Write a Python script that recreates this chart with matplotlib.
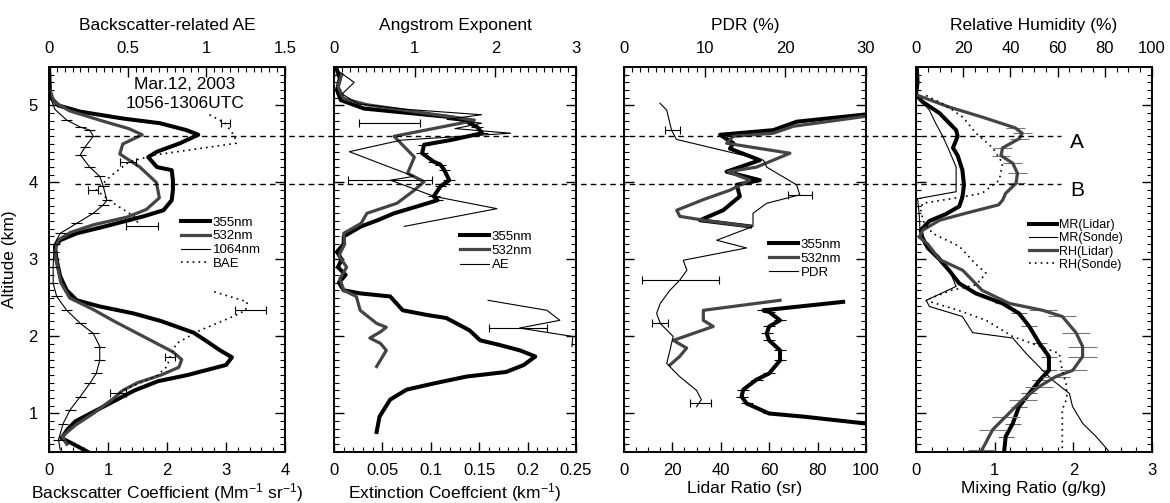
import matplotlib
matplotlib.use("Agg")
import matplotlib.pyplot as plt
import matplotlib.transforms as mtransforms
from matplotlib.ticker import MultipleLocator, FuncFormatter

plt.rcParams.update({
    "font.family": ["Liberation Sans", "DejaVu Sans"],
    "font.size": 12,
    "mathtext.default": "regular",
    "axes.linewidth": 1.2,
})

# ---- panel 1: backscatter coefficient (Mm-1 sr-1) and backscatter-related AE
alt_b355 = [0.5, 0.6, 0.68, 0.8, 0.9, 1.1, 1.3, 1.42, 1.5, 1.63, 1.73, 1.82, 1.95, 2.05, 2.2,
            2.3, 2.39, 2.47, 2.6, 2.78, 2.99, 3.17, 3.25, 3.34, 3.43, 3.56, 3.64, 3.77, 3.9, 4.03,
            4.16, 4.2, 4.33, 4.4, 4.51, 4.62, 4.68, 4.77, 4.83, 4.92, 5.0, 5.11, 5.3, 5.5]
b355 = [0.66, 0.42, 0.21, 0.32, 0.45, 0.95, 1.45, 1.85, 2.35, 3.0, 3.1, 2.9, 2.65, 2.45, 1.9,
        1.43, 0.86, 0.47, 0.3, 0.19, 0.13, 0.1, 0.19, 0.47, 0.95, 1.6, 1.94, 2.08, 2.1, 2.1,
        2.08, 1.83, 1.68, 1.83, 2.22, 2.53, 2.33, 1.88, 1.26, 0.53, 0.16, 0.02, 0.01, 0.0]
alt_b532 = [0.6, 0.7, 0.85, 1.0, 1.2, 1.3, 1.4, 1.5, 1.6, 1.7, 1.8, 1.9, 2.0, 2.1, 2.2, 2.35,
            2.5, 2.7, 3.0, 3.1, 3.25, 3.35, 3.45, 3.55, 3.65, 3.8, 4.0, 4.2, 4.37, 4.5, 4.62,
            4.7, 4.8, 4.93, 5.05, 5.2]
b532 = [0.3, 0.22, 0.45, 0.75, 1.1, 1.25, 1.5, 1.9, 2.2, 2.25, 2.1, 1.85, 1.6, 1.35, 1.1, 0.75,
        0.35, 0.2, 0.12, 0.1, 0.15, 0.36, 0.75, 1.32, 1.65, 1.87, 1.82, 1.54, 1.2, 1.25, 1.58,
        1.35, 0.9, 0.35, 0.08, 0.02]
alt_b1064 = [0.53, 0.66, 0.87, 1.05, 1.22, 1.39, 1.52, 1.69, 1.87, 2.04, 2.17, 2.34, 2.52, 2.69,
             2.9, 3.1, 3.2, 3.34, 3.47, 3.6, 3.71, 3.77, 3.95, 4.08, 4.2, 4.36, 4.46, 4.6, 4.68,
             4.72, 4.81, 4.95, 5.11, 5.3, 5.5]
b1064 = [0.19, 0.16, 0.24, 0.36, 0.53, 0.69, 0.8, 0.86, 0.86, 0.75, 0.53, 0.3, 0.13, 0.07,
         0.07, 0.08, 0.09, 0.19, 0.47, 0.75, 0.92, 0.98, 0.92, 0.86, 0.69, 0.53, 0.61, 0.75,
         0.69, 0.53, 0.3, 0.1, 0.02, 0.01, 0.0]
alt_bae_hi = [4.88, 4.77, 4.6, 4.51, 4.36, 4.27, 4.08, 3.9, 3.73, 3.56, 3.43]
bae_hi = [1.02, 1.12, 1.18, 1.19, 0.68, 0.51, 0.39, 0.3, 0.41, 0.54, 0.58]
alt_bae_lo = [2.58, 2.45, 2.34, 2.26, 2.08, 1.91, 1.74, 1.61, 1.48, 1.39, 1.3, 1.26]
bae_lo = [1.05, 1.26, 1.25, 1.17, 0.96, 0.81, 0.77, 0.75, 0.68, 0.57, 0.47, 0.44]
bae_err_alt = [4.77, 4.27, 3.9, 3.43, 2.34, 1.74, 1.26]
bae_err_mid = [1.12, 0.5, 0.28, 0.59, 1.28, 0.77, 0.44]
bae_err_half = [0.03, 0.05, 0.03, 0.1, 0.1, 0.03, 0.05]

# ---- panel 2: extinction coefficient (km-1) and Angstrom exponent
alt_e355 = [0.76, 0.96, 1.18, 1.31, 1.39, 1.48, 1.54, 1.63, 1.74, 1.82, 1.89, 1.95, 2.08, 2.24,
            2.28, 2.34, 2.52, 2.56, 2.6, 2.7, 2.8, 2.9, 3.0, 3.1, 3.2, 3.3, 3.43, 3.51, 3.6,
            3.69, 3.77, 3.82, 3.95, 4.03, 4.16, 4.23, 4.27, 4.38, 4.49, 4.55, 4.64, 4.72, 4.81,
            4.85, 4.96, 5.07, 5.2, 5.35, 5.5]
e355 = [0.044, 0.047, 0.058, 0.075, 0.103, 0.137, 0.178, 0.196, 0.208, 0.192, 0.171, 0.151,
        0.14, 0.116, 0.096, 0.071, 0.058, 0.027, 0.01, 0.005, 0.012, 0.004, 0.008, 0.003, 0.01,
        0.01, 0.028, 0.045, 0.062, 0.086, 0.107, 0.103, 0.11, 0.119, 0.114, 0.11, 0.103, 0.091,
        0.093, 0.12, 0.153, 0.148, 0.134, 0.12, 0.031, 0.007, 0.003, 0.006, 0.002]
alt_e532 = [1.61, 1.82, 1.91, 1.98, 2.06, 2.12, 2.17, 2.34, 2.52, 2.6, 2.75, 2.9, 3.05, 3.2,
            3.34, 3.47, 3.6, 3.73, 3.9, 4.01, 4.12, 4.33, 4.51, 4.6, 4.77, 4.81, 5.01, 5.09,
            5.25, 5.4]
e532 = [0.044, 0.054, 0.048, 0.037, 0.048, 0.054, 0.044, 0.027, 0.023, 0.01, 0.006, 0.013,
        0.005, 0.011, 0.01, 0.028, 0.034, 0.065, 0.083, 0.093, 0.076, 0.083, 0.069, 0.062,
        0.131, 0.145, 0.034, 0.01, 0.004, 0.008]
alt_ae_hi = [5.45, 5.3, 5.15, 5.02, 4.95, 4.88, 4.82, 4.77, 4.7, 4.64, 4.55, 4.4, 4.08, 4.03,
             3.82, 3.66, 3.43]
ae_hi = [0.05, 0.25, 0.1, 0.3, 0.9, 1.83, 1.4, 1.83, 1.5, 2.19, 0.83, 0.19, 0.99, 0.7, 1.24,
         2.02, 0.87]
alt_ae_lo = [2.47, 2.34, 2.21, 2.11, 2.0, 1.87]
ae_lo = [1.91, 2.64, 2.8, 2.3, 2.96, 2.95]
ae_err_alt = [4.77, 4.03, 2.11]
ae_err_mid = [0.69, 0.69, 2.28]
ae_err_half = [0.38, 0.52, 0.36]

# ---- panel 3: lidar ratio (sr) and particle depolarization ratio (%)
alt_lr355_lo = [0.87, 0.96, 1.0, 1.13, 1.22, 1.31, 1.44, 1.52, 1.69, 1.82, 1.95, 2.04, 2.13,
                2.21, 2.32, 2.34, 2.45]
lr355_lo = [100, 74, 60, 50.7, 48.6, 49.3, 54.8, 60, 64.5, 64.5, 60, 59, 60, 64.5, 60, 57.6, 90.6]
alt_lr355_hi = [3.43, 3.51, 3.64, 3.82, 3.97, 4.03, 4.14, 4.29, 4.44, 4.51, 4.62, 4.68, 4.79, 4.88]
lr355_hi = [52.1, 31.4, 41, 47.9, 46.6, 56.2, 42.4, 56.2, 43.8, 45.2, 39.7, 61.7, 71.4, 98.9]
alt_lr532_lo = [1.63, 1.74, 1.85, 1.95, 2.13, 2.21, 2.34, 2.47]
lr532_lo = [19, 23, 25.9, 20.4, 36.9, 32.8, 32.8, 64.5]
alt_lr532_hi = [3.43, 3.5, 3.56, 3.64, 3.78, 3.9, 4.03, 4.14, 4.2, 4.38, 4.51, 4.6, 4.64, 4.73, 4.86]
lr532_hi = [52, 35, 23.1, 21.8, 33, 43.8, 52, 43.1, 54.8, 68.6, 42.4, 45.2, 61.7, 70, 100]
alt_pdr = [1.09, 1.18, 1.3, 1.48, 1.65, 1.82, 2.0, 2.17, 2.3, 2.43, 2.6, 2.73, 2.86, 2.99,
           3.15, 3.25, 3.43, 3.6, 3.73, 3.84, 3.97, 4.2, 4.29, 4.56, 4.68, 4.94, 5.03]
pdr = [9.0, 9.6, 9.0, 6.9, 5.3, 5.7, 6.1, 4.5, 4.05, 4.5, 5.7, 6.9, 7.8, 7.35, 15.2, 11.5, 16,
       16, 17.7, 21.8, 21.4, 17.7, 17.3, 6.5, 5.9, 5.3, 4.46]
pdr_err_alt = [4.68, 3.84, 2.73, 2.17, 1.14]
pdr_err_mid = [6.0, 21.8, 7.0, 4.5, 9.5]
pdr_err_half = [0.9, 1.5, 4.8, 1.0, 1.35]

# ---- panel 4: mixing ratio (g/kg) and relative humidity (%)
alt_mrl = [0.5, 0.7, 0.87, 1.09, 1.26, 1.43, 1.56, 1.74, 1.91, 2.13, 2.3, 2.43, 2.56, 2.69,
           2.86, 3.0, 3.15, 3.29, 3.38, 3.5, 3.59, 3.69, 3.81, 3.97, 4.16, 4.35, 4.45, 4.6,
           4.68, 4.9, 5.05, 5.14, 5.3, 5.5]
mrl = [1.12, 1.14, 1.23, 1.31, 1.44, 1.57, 1.69, 1.69, 1.57, 1.44, 1.31, 1.1, 0.76, 0.55,
       0.42, 0.3, 0.15, 0.08, 0.06, 0.17, 0.38, 0.55, 0.59, 0.61, 0.59, 0.53, 0.47, 0.53,
       0.51, 0.3, 0.08, 0.0, 0.02, 0.01]
alt_mrs = [0.5, 0.7, 0.87, 1.09, 1.26, 1.43, 1.56, 1.78, 1.98, 2.05, 2.26, 2.39, 2.47, 2.65,
           2.85, 3.05, 3.2, 3.4, 3.6, 3.79, 3.88, 4.2, 4.42, 4.6, 4.77, 4.94, 5.14]
mrs = [2.46, 2.29, 2.12, 1.99, 1.95, 1.74, 1.61, 1.4, 1.23, 0.72, 0.59, 0.17, 0.13, 0.51,
       0.43, 0.29, 0.1, 0.05, 0.04, 0.02, 0.51, 0.51, 0.42, 0.34, 0.25, 0.17, 0.0]
alt_rhl = [0.53, 0.79, 0.96, 1.18, 1.35, 1.48, 1.56, 1.74, 1.87, 2.05, 2.26, 2.34, 2.43, 2.6,
           2.86, 3.0, 3.2, 3.29, 3.38, 3.51, 3.6, 3.71, 3.77, 3.86, 3.99, 4.12, 4.25, 4.35,
           4.45, 4.57, 4.64, 4.71, 4.85, 4.98, 5.14]
rhl = [28, 32.5, 38, 45.2, 52.2, 59.3, 66.4, 70.6, 70.6, 67.8, 62, 53.7, 39.5, 28, 19.8, 10,
       5, 1.4, 2.8, 10, 21, 35, 36.7, 38, 42.4, 43, 41, 36, 36.7, 43.8, 45, 42, 28, 14, 0]
alt_rhs = [0.55, 1.05, 1.2, 1.39, 1.55, 1.78, 2.0, 2.21, 2.34, 2.47, 2.6, 2.67, 2.82, 2.95,
           3.17, 3.34, 3.5, 3.65, 3.73, 3.77, 3.82, 3.86, 4.03, 4.25, 4.45, 4.64, 4.85, 5.0, 5.15]
rhs = [62, 62, 64, 63.6, 62, 60.7, 41, 29.7, 18, 4, 15, 25.4, 29.7, 25, 18.4, 7, 3, 2, 2.8,
       11, 21, 28, 35.3, 36.7, 32.5, 25.4, 19.8, 12.7, 3]

layer_alt = [4.6, 3.98]
layer_name = ["A", "B"]

THICK = dict(color="black", lw=2.9)
GRAY = dict(color="#444444", lw=2.3)
THIN = dict(color="black", lw=0.8)
DOTS = dict(color="black", lw=1.2, ls=(0, (1, 2.5)))
ERR = dict(fmt="none", ecolor="black", elinewidth=0.8, capsize=3, capthick=0.8)
LEG = dict(loc="upper left", frameon=False, handlelength=2.2, handletextpad=0.2,
           borderpad=0, borderaxespad=0)

fig = plt.figure(figsize=(11.7, 5.03), dpi=100)
fmt = FuncFormatter(lambda v, p: f"{v:g}")


def make_panel(left, width, bot, top, xlabel, tlabel, ylab=False):
    ax = fig.add_axes([left, 0.1014, width, 0.7654])
    ax.set_ylim(0.5, 5.5)
    ax.set_xlim(0, bot[0])
    ax.xaxis.set_major_locator(MultipleLocator(bot[1]))
    ax.xaxis.set_minor_locator(MultipleLocator(bot[2]))
    ax.xaxis.set_major_formatter(fmt)
    ax.yaxis.set_major_locator(MultipleLocator(1))
    ax.yaxis.set_minor_locator(MultipleLocator(0.1))
    ax.tick_params(which="both", direction="in", top=False, right=True, labelleft=ylab)
    ax.tick_params(which="major", length=7, width=1, pad=8)
    ax.tick_params(which="minor", length=3.5, width=0.8)
    ax.set_xlabel(xlabel, labelpad=2, fontsize=12.5)
    axt = ax.twiny()
    axt.set_xlim(0, top[0])
    axt.xaxis.set_major_locator(MultipleLocator(top[1]))
    axt.xaxis.set_minor_locator(MultipleLocator(top[2]))
    axt.xaxis.set_major_formatter(fmt)
    axt.tick_params(axis="x", which="both", direction="in")
    axt.tick_params(axis="x", which="major", length=7, width=1, pad=8)
    axt.tick_params(axis="x", which="minor", length=3.5, width=0.8)
    axt.set_xlabel(tlabel, labelpad=8, fontsize=12.5)
    return ax, axt


ax1, ax1t = make_panel(0.0419, 0.2017, (4, 1, 0.2), (1.5, 0.5, 0.05),
                       "Backscatter Coefficient (Mm$^{-1}$ sr$^{-1}$)", "Backscatter-related AE", ylab=True)
ax1.set_ylabel("Altitude (km)", labelpad=8, fontsize=12.5)
h1 = ax1.plot(b355, alt_b355, **THICK, label="355nm")
h2 = ax1.plot(b532, alt_b532, **GRAY, label="532nm")
h3 = ax1.plot(b1064, alt_b1064, **THIN, label="1064nm")
ax1.errorbar(b1064[1:31], alt_b1064[1:31], xerr=0.09, fmt="none", ecolor="black", elinewidth=0.8)
h4 = ax1t.plot(bae_hi, alt_bae_hi, **DOTS, label="BAE")
ax1t.plot(bae_lo, alt_bae_lo, **DOTS)
ax1t.errorbar(bae_err_mid, bae_err_alt, xerr=bae_err_half, **ERR)
ax1t.legend(handles=h1 + h2 + h3 + h4, bbox_to_anchor=(0.56, 0.612), fontsize=9.5,
            labelspacing=0.12, **LEG)
ax1.text(2.3, 5.27, "Mar.12, 2003", ha="center", va="center", fontsize=12.5)
ax1.text(2.3, 5.02, "1056-1306UTC", ha="center", va="center", fontsize=12.5)

ax2, ax2t = make_panel(0.2855, 0.2068, (0.25, 0.05, 0.01), (3, 1, 0.1),
                       "Extinction Coeffcient (km$^{-1}$)", "Angstrom Exponent")
g1 = ax2.plot(e355, alt_e355, **THICK, label="355nm")
g2 = ax2.plot(e532, alt_e532, **GRAY, label="532nm")
ax2.errorbar(e355[30:42], alt_e355[30:42], xerr=0.006, fmt="none", ecolor="black", elinewidth=0.8)
g3 = ax2t.plot(ae_hi, alt_ae_hi, **THIN, label="AE")
ax2t.plot(ae_lo, alt_ae_lo, **THIN)
ax2t.errorbar(ae_err_mid, ae_err_alt, xerr=ae_err_half, **ERR)
ax2t.legend(handles=g1 + g2 + g3, bbox_to_anchor=(0.52, 0.575), fontsize=9.5,
            labelspacing=0.15, **LEG)

ax3, ax3t = make_panel(0.5333, 0.2068, (100, 20, 5), (30, 10, 1),
                       "Lidar Ratio (sr)", "PDR (%)")
k1 = ax3.plot(lr355_lo, alt_lr355_lo, **THICK, label="355nm")
ax3.plot(lr355_hi, alt_lr355_hi, **THICK)
k2 = ax3.plot(lr532_lo, alt_lr532_lo, **GRAY, label="532nm")
ax3.plot(lr532_hi, alt_lr532_hi, **GRAY)
ax3.errorbar(lr355_lo[1:16], alt_lr355_lo[1:16], xerr=2.5, fmt="none", ecolor="black", elinewidth=0.8)
k3 = ax3t.plot(pdr, alt_pdr, **THIN, label="PDR")
ax3t.errorbar(pdr_err_mid, pdr_err_alt, xerr=pdr_err_half, **ERR)
ax3t.legend(handles=k1 + k2 + k3, bbox_to_anchor=(0.6, 0.555), fontsize=9.5,
            labelspacing=0.15, **LEG)

ax4, ax4t = make_panel(0.7829, 0.2017, (3, 1, 0.2), (100, 20, 5),
                       "Mixing Ratio (g/kg)", "Relative Humidity (%)")
ax4.errorbar(mrl[:12], alt_mrl[:12], xerr=0.1, fmt="none", ecolor="#666666", elinewidth=0.8)
ax4t.errorbar(rhl[:12], alt_rhl[:12], xerr=6, fmt="none", ecolor="#777777", elinewidth=0.8)
ax4t.errorbar(rhl[24:32], alt_rhl[24:32], xerr=4, fmt="none", ecolor="#777777", elinewidth=0.8)
m1 = ax4.plot(mrl, alt_mrl, **THICK, label="MR(Lidar)")
m2 = ax4.plot(mrs, alt_mrs, **THIN, label="MR(Sonde)")
m3 = ax4t.plot(rhl, alt_rhl, **GRAY, label="RH(Lidar)")
m4 = ax4t.plot(rhs, alt_rhs, **DOTS, label="RH(Sonde)")
ax4t.legend(handles=m1 + m2 + m3 + m4, bbox_to_anchor=(0.48, 0.605), fontsize=9,
            labelspacing=0.1, **LEG)
for a, name in zip(layer_alt, layer_name):
    ax4.text(2.05, a - 0.08, name, ha="center", va="center", fontsize=15)

# dashed layer markers running across all panels
trans = mtransforms.blended_transform_factory(fig.transFigure, ax1.transData)
for a in layer_alt:
    fig.add_artist(plt.Line2D([0.064, 0.907], [a, a], transform=trans, color="black",
                              lw=1.0, ls=(0, (4, 3))))

fig.savefig("out.png", dpi=100)
